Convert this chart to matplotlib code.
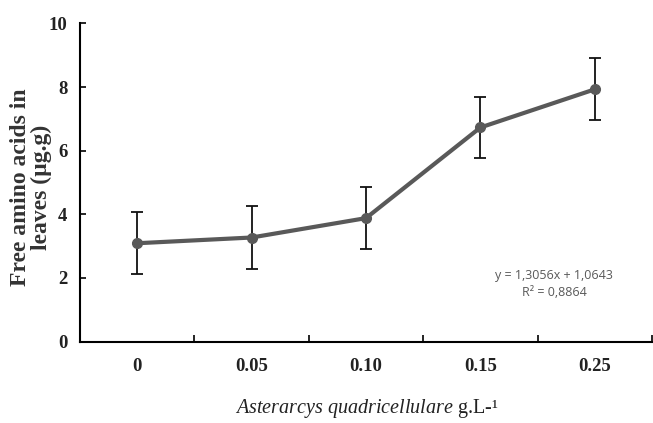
import matplotlib
matplotlib.use("Agg")
import matplotlib.pyplot as plt
import numpy as np

plt.rcParams["mathtext.fontset"] = "custom"
plt.rcParams["mathtext.it"] = "Liberation Serif:italic"
plt.rcParams["mathtext.rm"] = "Liberation Serif"

categories = ["0", "0.05", "0.10", "0.15", "0.25"]
values = [3.09, 3.27, 3.88, 6.73, 7.93]
errors = [0.98, 0.99, 0.97, 0.97, 0.98]
yticks = [0, 2, 4, 6, 8, 10]

fig = plt.figure(figsize=(6.53, 4.23), dpi=100)
ax = fig.add_axes([80/653, (423-341.5)/423, (652-80)/653, (341.5-23.5)/423])

x = np.arange(len(categories))
ax.errorbar(x, values, yerr=errors, fmt="none", ecolor="#111111", elinewidth=1.3,
            capsize=4, capthick=1.3, zorder=2)
ax.plot(x, values, color="#595959", lw=3, marker="o", markersize=7,
        markerfacecolor="#595959", markeredgecolor="#595959", zorder=3)

ax.set_xlim(-0.5, len(categories) - 0.5)
ax.set_ylim(0, 10)
ax.set_yticks(yticks)
ax.set_yticklabels([str(v) for v in yticks], fontfamily="Liberation Serif",
                   fontweight="bold", fontsize=13.5, color="#222222")
ax.set_xticks(x)
ax.set_xticklabels(categories, fontfamily="Liberation Serif", fontweight="bold",
                   fontsize=13.5, color="#222222")
ax.set_xticks(np.arange(len(categories)) + 0.5, minor=True)
ax.tick_params(axis="x", which="major", length=0, pad=12)
ax.tick_params(axis="x", which="minor", direction="in", length=5, width=1.2)
ax.tick_params(axis="y", direction="in", length=4, width=1.2, pad=9)

for s in ["top", "right"]:
    ax.spines[s].set_visible(False)
for s in ["left", "bottom"]:
    ax.spines[s].set_linewidth(1.5)

fig.text(31/653, 1 - 187/423, "Free amino acids in\nleaves (µg.g)", rotation=90,
         ha="center", va="center", fontfamily="Liberation Serif",
         fontweight="bold", fontsize=17, color="#333333", linespacing=1.0)

fig.text(367/653, 1 - 408/423, r"$\mathit{Asterarcys\ quadricellulare}$" + " g.L-¹",
         ha="center", va="center", fontfamily="Liberation Serif", fontsize=14.5,
         color="#222222")

ax.text((554-80)/572, (341.5-284)/318, "y = 1,3056x + 1,0643\nR² = 0,8864",
        transform=ax.transAxes, ha="center", va="center", fontfamily="Open Sans",
        fontsize=9, color="#595959", linespacing=1.4)

fig.savefig("out.png", dpi=100)
